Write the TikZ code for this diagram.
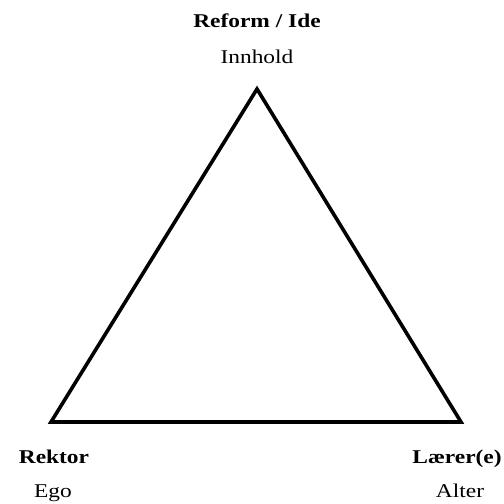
\documentclass[tikz,border=0pt]{standalone}
\usepackage{fontspec}
\setmainfont[FakeStretch=1.2]{Liberation Serif}
\usepackage{tikz}
\usetikzlibrary{positioning}

\begin{document}
\begin{tikzpicture}[x = 1pt, y = -1pt,
    every node/.style = { inner sep = 0pt, anchor = base, font = \fontsize{19.5}{22}\selectfont },
    title/.style = { font = \fontsize{19.5}{22}\selectfont\bfseries },
    side/.style = { line width = 3.6pt, line join = miter }]
    \useasboundingbox (0,0) rectangle (504,504);
    % corners of the triangle
    \coordinate (top) at (257,89);
    \coordinate (left) at (51,422);
    \coordinate (right) at (461,422);
    \draw [side] (top) -- (left) -- (right) -- cycle;
    % labels
    \node [title] (reform) at (257,27) { Reform / Ide };
    \node (innhold) at (257,63) { Innhold };
    \node [title] (rektor) at (54,463) { Rektor };
    \node (ego) at (53,497) { Ego };
    \node [title] (laerer) at (457,463) { Lærer(e) };
    \node (alter) at (460,497) { Alter };
\end{tikzpicture}
\end{document}
